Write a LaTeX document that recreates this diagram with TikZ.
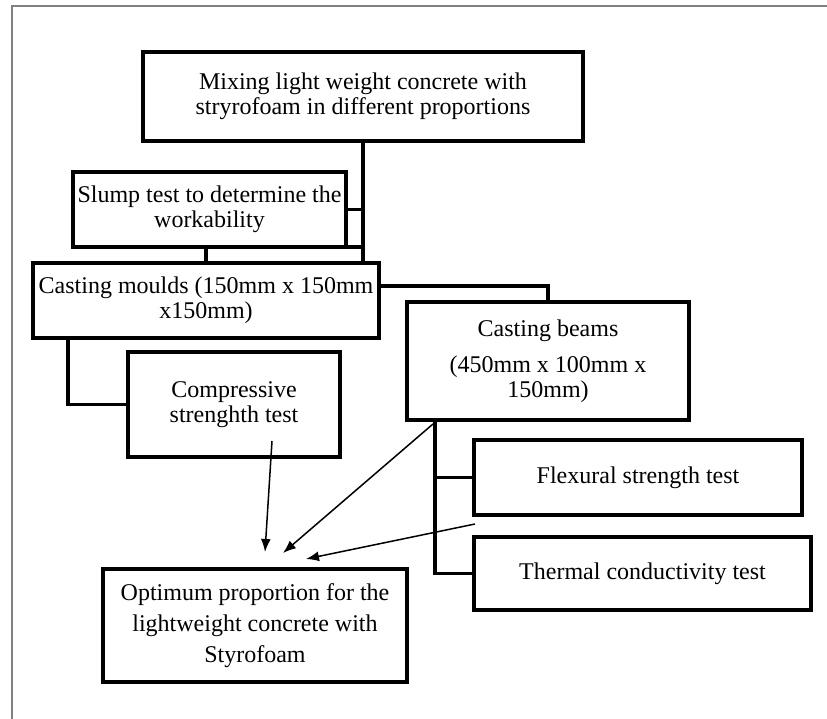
\documentclass[tikz,border=0pt]{standalone}
\usepackage{fontspec}
\setmainfont{Liberation Serif}
\usepackage{tikz}
\usetikzlibrary{arrows.meta}
\pgfdeclarelayer{edgelayer}
\pgfdeclarelayer{nodelayer}
\pgfsetlayers{edgelayer,nodelayer,main}
\tikzstyle{none}=[inner sep=0pt]
\tikzstyle{box}=[draw, line width=3.5pt, outer sep=0pt, align=center, fill=white, font=\fontsize{24}{25}\selectfont]
\tikzstyle{link}=[line width=3.5pt]
\tikzstyle{arrow}=[-{Latex[length=13pt,width=10pt]}, line width=1.5pt]

\begin{document}
\begin{tikzpicture}[x=1pt, y=-1pt]
	\useasboundingbox (0, 0) rectangle (827, 719);
	\draw [gray, line width=1.2pt] (12, 719) -- (12, 6) -- (827, 6);
	\begin{pgfonlayer}{nodelayer}
		\node [style=box, minimum width=440pt, minimum height=89pt] (0) at (363, 96.5) {Mixing light weight concrete with\\stryrofoam in different proportions};
		\node [style=box, minimum width=273pt, minimum height=75pt] (1) at (209.5, 209.5) {Slump test to determine the\\workability};
		\node [style=box, minimum width=346pt, minimum height=75pt] (2) at (206, 300.5) {Casting moulds (150mm x 150mm\\x150mm)};
		\node [style=box, minimum width=282pt, minimum height=118pt] (3) at (548, 361) {Casting beams\\[11pt](450mm x 100mm x\\150mm)};
		\node [style=box, minimum width=212pt, minimum height=105pt] (4) at (234, 404.5) {Compressive\\strenghth test};
		\node [style=box, minimum width=328pt, minimum height=75pt] (5) at (638, 477.5) {Flexural strength test};
		\node [style=box, minimum width=337pt, minimum height=73pt] (6) at (642.5, 573.5) {Thermal conductivity test};
		\node [style=box, minimum width=304pt, minimum height=113pt, font=\fontsize{24}{31}\selectfont] (7) at (255, 625.5) {Optimum proportion for the\\lightweight concrete with\\Styrofoam};
	\end{pgfonlayer}
	\coordinate (8) at (272, 441);
	\coordinate (9) at (265, 552);
	\coordinate (10) at (433, 424);
	\coordinate (11) at (283, 553);
	\coordinate (12) at (475, 524);
	\coordinate (13) at (306, 559);
	\begin{pgfonlayer}{edgelayer}
		\draw [style=link] (0.south) -- (0.south |- 2.north);
		\draw [style=link] (1.east) -- (1.east -| 0.south);
		\draw [style=link] (1.south east) -- (1.south east -| 0.south);
		\draw [style=link] ([xshift=-3.5pt]1.south) -- ([xshift=-3.5pt]1.south |- 2.north);
		\draw [style=link] ([yshift=14.5pt]2.east) -| (3.north);
		\draw [style=link] ([xshift=35pt]2.south west) |- (4.west);
		\draw [style=link] ([xshift=28pt]3.south west) |- (5.west);
		\draw [style=link] ([xshift=28pt]3.south west) |- (6.west);
	\end{pgfonlayer}
	\draw [style=arrow] (8) -- (9);
	\draw [style=arrow] (10) -- (11);
	\draw [style=arrow] (12) -- (13);
\end{tikzpicture}
\end{document}
